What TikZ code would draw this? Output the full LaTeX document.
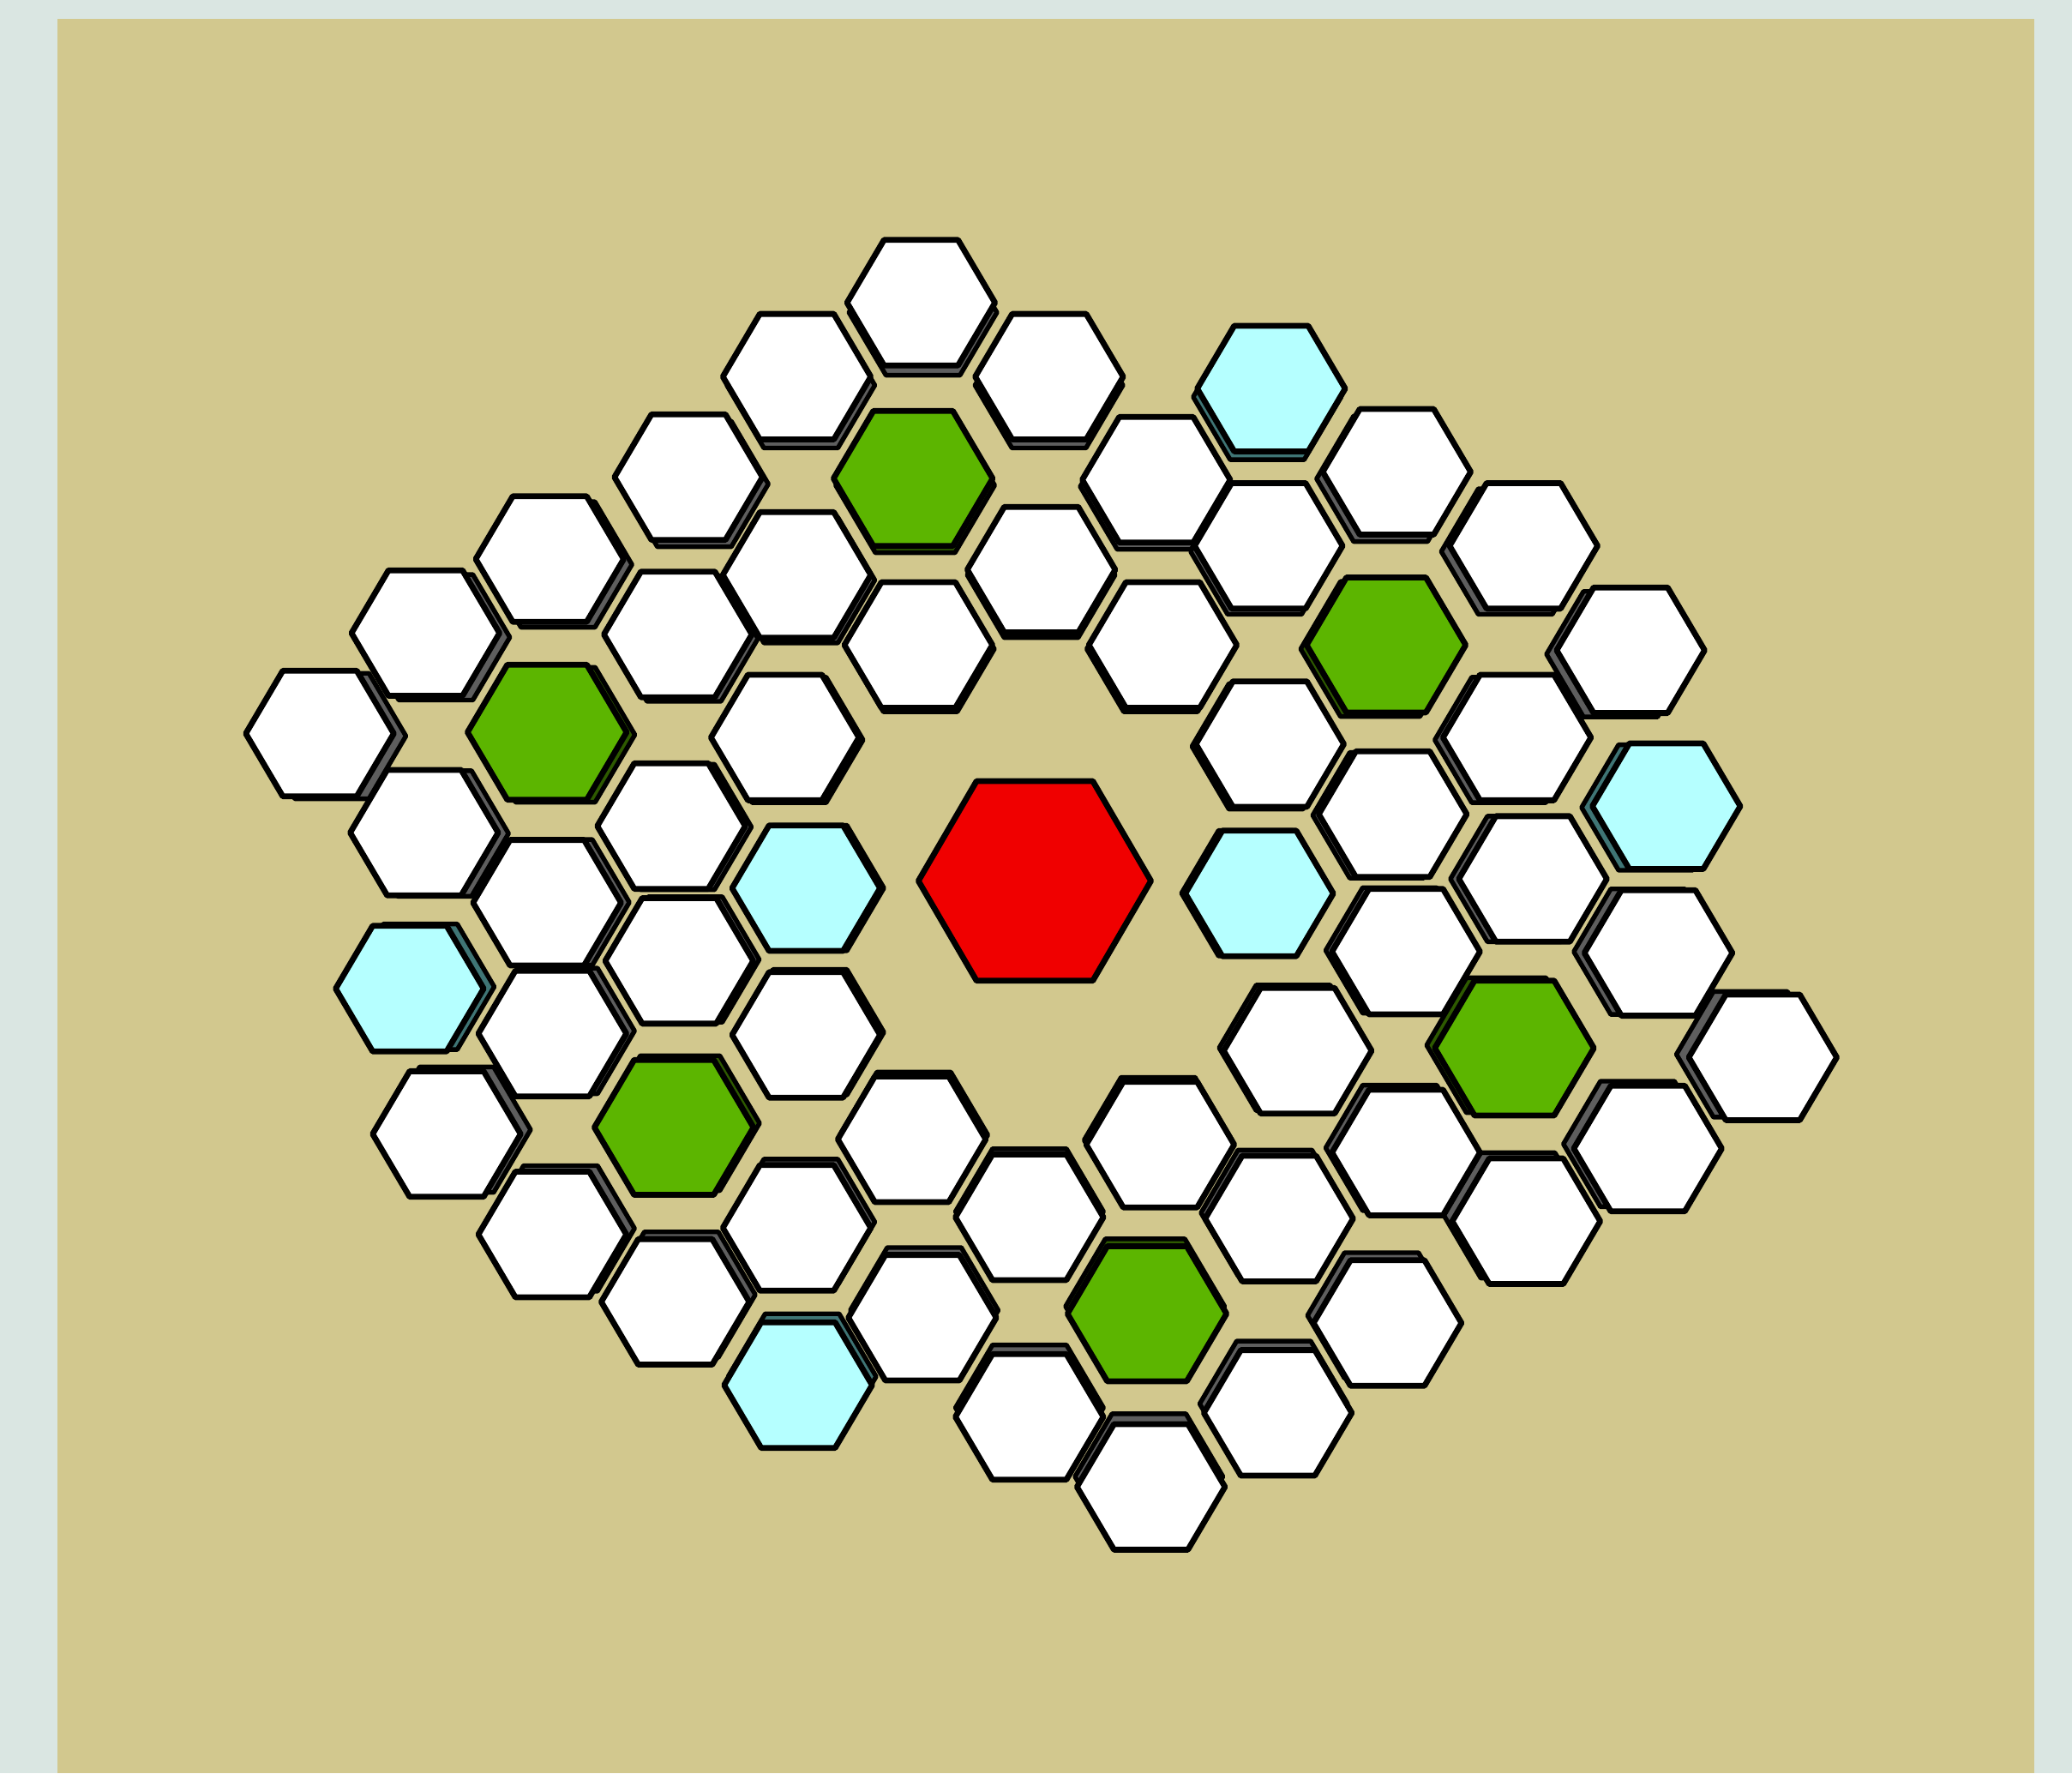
\documentclass[tikz,border=0pt]{standalone}
\usepackage{tikz}

\definecolor{frame}{HTML}{DAE6E2}
\definecolor{board}{HTML}{D2C88E}
\definecolor{leaf}{HTML}{5CB500}
\definecolor{ice}{HTML}{B5FFFF}
\definecolor{ember}{HTML}{F00000}
\definecolor{wallgrey}{HTML}{5E5E5E}
\definecolor{wallteal}{HTML}{3F7575}
\definecolor{wallgreen}{HTML}{2E5A00}

% x/y/size/face/wall
\def\cells{697/229/1/white/wallgrey, 603/285/1/white/wallgrey, 794/285/1/white/wallgrey,
  962/294/1/ice/wallteal, 691/362/1.075/leaf/wallgreen, 521/361/1/white/wallgrey,
  875/363/1/white/wallgrey, 1057/357/1/white/wallgrey, 1153/413/1/white/wallgrey,
  416/423/1/white/wallgrey, 603/435/1/white/wallgrey, 788/431/1/white/wallgrey,
  960/413/1/white/wallgrey, 322/479/1/white/wallgrey, 513/480/1/white/wallgrey,
  695/488/1/white/wallgrey, 880/488/1/white/wallgrey, 1049/488/1.075/leaf/wallgreen,
  1234/492/1/white/wallgrey, 242/555/1/white/wallgrey, 414/554/1.075/leaf/wallgreen,
  594/558/1/white/wallgrey, 961/563/1/white/wallgrey, 1148/558/1/white/wallgrey,
  321/630/1/white/wallgrey, 508/625/1/white/wallgrey, 1054/616/1/white/wallgrey,
  1261/610/1/ice/wallteal, 414/683/1/white/wallgrey, 610/672/1/ice/wallteal,
  953/676/1/ice/wallteal, 1160/665/1/white/wallgrey, 310/748/1/ice/wallteal,
  514/727/1/white/wallgrey, 1064/720/1/white/wallgrey, 1255/721/1/white/wallgrey,
  418/782/1/white/wallgrey, 610/783/1/white/wallgrey, 982/795/1/white/wallgrey,
  1146/793/1.075/leaf/wallgreen, 1334/800/1/white/wallgrey, 338/858/1/white/wallgrey,
  510/853/1.075/leaf/wallgreen, 690/862/1/white/wallgrey, 878/866/1/white/wallgrey,
  1064/872/1/white/wallgrey, 1247/869/1/white/wallgrey, 418/934/1/white/wallgrey,
  603/929/1/white/wallgrey, 779/921/1/white/wallgrey, 968/922/1/white/wallgrey,
  1155/924/1/white/wallgrey, 511/985/1/white/wallgrey, 698/997/1/white/wallgrey,
  868/994/1.075/leaf/wallgreen, 1050/1001/1/white/wallgrey, 604/1048/1/ice/wallteal,
  779/1072/1/white/wallgrey, 967/1069/1/white/wallgrey, 871/1125/1/white/wallgrey}

\begin{document}
\begin{tikzpicture}[x=0.01cm, y=-0.01cm,
    hexcell/.style={draw=black, line width=1.25pt, line join=round},
    hexwall/.style={draw=black, line width=1pt, line join=round}]
\useasboundingbox (0,0) rectangle (1568,1341.6);
\fill[frame] (0,0) rectangle (1568,1341.6);
\fill[board] (43.5,14.3) rectangle (1539.5,1341.6);
% side walls, leaning toward the centre cell
\foreach \hx/\hy/\sz/\facecol/\wallcol in \cells {
  \pgfmathsetmacro\sx{\hx+0.017*(783-\hx)}
  \pgfmathsetmacro\sy{\hy+0.017*(666-\hy)}
  \draw[hexwall, fill=\wallcol, shift={(\sx,\sy)}, scale=\sz] (56,0) -- (28,47.5) -- (-28,47.5)
    -- (-56,0) -- (-28,-47.5) -- (28,-47.5) -- cycle;
}
% top faces
\foreach \hx/\hy/\sz/\facecol/\wallcol in \cells {
  \draw[hexcell, fill=\facecol, shift={(\hx,\hy)}, scale=\sz] (56,0) -- (28,47.5) -- (-28,47.5)
    -- (-56,0) -- (-28,-47.5) -- (28,-47.5) -- cycle;
}
\draw[hexcell, fill=ember, shift={(783,666.5)}] (88,0) -- (44,75.5) -- (-44,75.5)
  -- (-88,0) -- (-44,-75.5) -- (44,-75.5) -- cycle;
\end{tikzpicture}
\end{document}
